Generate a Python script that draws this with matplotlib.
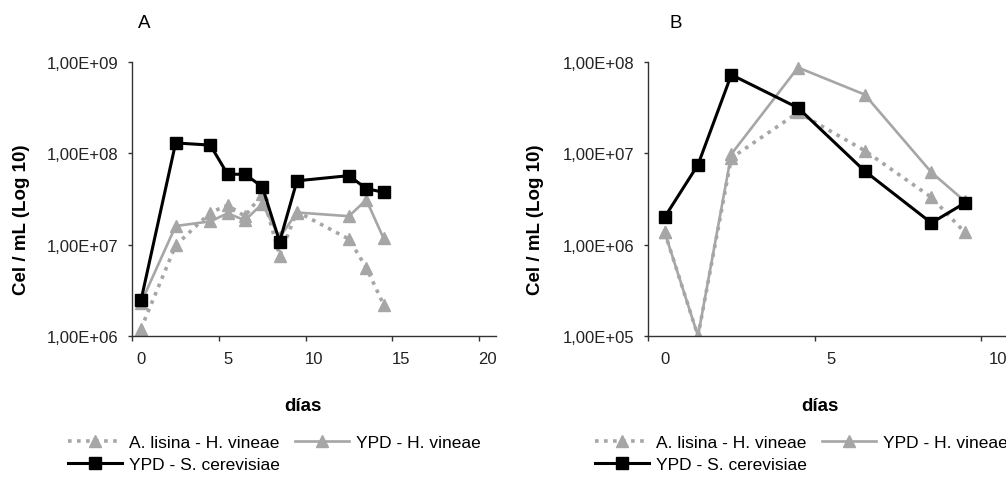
import numpy as np
import matplotlib
matplotlib.use("Agg")
import matplotlib.pyplot as plt
from matplotlib.ticker import FixedLocator, NullLocator

plt.rcParams["font.family"] = ["Liberation Sans", "DejaVu Sans"]

# ---------------------------------------------------------------
# Cell counts (cel/mL) - panel A
# ---------------------------------------------------------------
dias_a = [0, 2, 4, 5, 6, 7, 8, 9, 12, 13, 14]
lisina_a = [1.2e6, 9.8e6, 2.25e7, 2.7e7, 2.05e7, 3.6e7, 7.6e6, 2.3e7, 1.15e7, 5.6e6, 2.2e6]
ypd_hv_a = [2.3e6, 1.6e7, 1.8e7, 2.2e7, 1.85e7, 2.8e7, 1.2e7, 2.25e7, 2.05e7, 3.1e7, 1.17e7]
ypd_sc_a = [2.45e6, 1.3e8, 1.23e8, 5.9e7, 5.9e7, 4.3e7, 1.08e7, 5.0e7, 5.7e7, 4.1e7, 3.75e7]

# ---------------------------------------------------------------
# Cell counts (cel/mL) - panel B
# ---------------------------------------------------------------
dias_b = [0, 1, 2, 4, 6, 8, 9]
lisina_b = [1.37e6, 1.0e5, 8.9e6, 2.8e7, 1.07e7, 3.3e6, 1.37e6]
ypd_hv_b = [1.37e6, 1.0e5, 9.8e6, 8.7e7, 4.4e7, 6.2e6, 3.0e6]
ypd_sc_b = [2.0e6, 7.5e6, 7.25e7, 3.15e7, 6.4e6, 1.73e6, 2.85e6]

yticks_a = [1e6, 1e7, 1e8, 1e9]
ylabels_a = ["1,00E+06", "1,00E+07", "1,00E+08", "1,00E+09"]
yticks_b = [1e5, 1e6, 1e7, 1e8]
ylabels_b = ["1,00E+05", "1,00E+06", "1,00E+07", "1,00E+08"]
xticks_a = [0, 5, 10, 15, 20]
xticks_b = [0, 5, 10]

series_names = ["A. lisina - H. vineae", "YPD - H. vineae", "YPD - S. cerevisiae"]

GRAY = "#a6a6a6"
W, H = 1006, 481


def fx(x):
    return x / W


def fy(y):
    return 1 - y / H


fig = plt.figure(figsize=(W / 100, H / 100), dpi=100)
ax_a = fig.add_axes([fx(132.3), fy(337), 364 / W, 274 / H])
ax_b = fig.add_axes([fx(648), fy(337), 366.7 / W, 274 / H])


def draw_panel(ax, dias, lisina, ypd_hv, ypd_sc, xlim, xticks, yticks, ylabels):
    l1, = ax.plot(dias, lisina, color=GRAY, ls=(0, (1, 1.5)), lw=2.6,
                  marker="^", ms=8, mec=GRAY, mfc=GRAY, label=series_names[0])
    l2, = ax.plot(dias, ypd_hv, color=GRAY, ls="-", lw=1.9,
                  marker="^", ms=8, mec=GRAY, mfc=GRAY, label=series_names[1])
    l3, = ax.plot(dias, ypd_sc, color="black", ls="-", lw=2.2,
                  marker="s", ms=8, mec="black", mfc="black", label=series_names[2])
    ax.set_yscale("log")
    ax.set_ylim(yticks[0], yticks[-1])
    ax.set_xlim(*xlim)
    ax.yaxis.set_major_locator(FixedLocator(yticks))
    ax.yaxis.set_minor_locator(NullLocator())
    ax.set_yticklabels(ylabels)
    ax.set_xticks(xticks)
    ax.set_xticklabels([str(t) for t in xticks])
    # tick marks sit half a day before the labels
    ax.xaxis.set_minor_locator(FixedLocator([t - 0.5 for t in xticks]))
    ax.tick_params(axis="x", which="major", length=0, pad=11, labelsize=12)
    ax.tick_params(axis="x", which="minor", length=3.5, width=1, color="#333333")
    ax.tick_params(axis="y", which="major", length=3, width=1, pad=7,
                   labelsize=12, color="#333333")
    for s in ["top", "right"]:
        ax.spines[s].set_visible(False)
    for s in ["left", "bottom"]:
        ax.spines[s].set_color("#333333")
        ax.spines[s].set_linewidth(1.0)
    for lab in ax.get_xticklabels() + ax.get_yticklabels():
        lab.set_color("#222222")
    ax.set_clip_on(False)
    return [l1, l3, l2]


handles_a = draw_panel(ax_a, dias_a, lisina_a, ypd_hv_a, ypd_sc_a,
                       (-0.5, 20.5), xticks_a, yticks_a, ylabels_a)
handles_b = draw_panel(ax_b, dias_b, lisina_b, ypd_hv_b, ypd_sc_b,
                       (-0.5, 10.5), xticks_b, yticks_b, ylabels_b)

# panel letters, axis titles
fig.text(fx(144.5), fy(24), "A", fontsize=13.5, ha="center", va="center")
fig.text(fx(676), fy(24), "B", fontsize=13.5, ha="center", va="center")
for xc in [22, 535]:
    fig.text(fx(xc), fy(220), "Cel / mL (Log 10)", fontsize=13.5, fontweight="bold",
             rotation=90, ha="center", va="center")
for xc in [303, 820]:
    fig.text(fx(xc), fy(407), "días", fontsize=13.5, fontweight="bold",
             ha="center", va="center")

for hs, x0 in [(handles_a, 68), (handles_b, 595)]:
    fig.legend(handles=hs, labels=[h.get_label() for h in hs], ncol=2,
               loc="upper left", bbox_to_anchor=(fx(x0), fy(436)),
               frameon=False, fontsize=12.5, handlelength=3.1, handletextpad=0.4,
               columnspacing=0.9, labelspacing=0.38, borderpad=0, borderaxespad=0,
               numpoints=1)

fig.savefig("out.png", dpi=100)
